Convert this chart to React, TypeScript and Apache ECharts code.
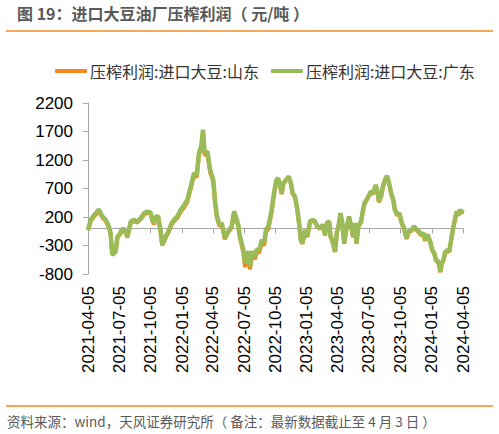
import React, { useEffect, useRef } from "react";
import * as echarts from "echarts";

const titleText = "图 19：进口大豆油厂压榨利润（ 元/吨 ）";
const footerText = "资料来源：wind，天风证券研究所（ 备注：最新数据截止至 4 月 3 日 ）";
const seriesNames = ["压榨利润:进口大豆:山东", "压榨利润:进口大豆:广东"];

const axisStart = "2021-04-05";
const axisEnd = "2024-04-05";
const tickDates = [
  "2021-04-05", "2021-07-05", "2021-10-05", "2022-01-05", "2022-04-05", "2022-07-05",
  "2022-10-05", "2023-01-05", "2023-04-05", "2023-07-05", "2023-10-05", "2024-01-05", "2024-04-05",
];
const yMin = -800;
const yMax = 2200;
const yStep = 500;

const sampleDates = [
  "2021-04-05", "2021-04-13", "2021-04-23", "2021-05-07", "2021-05-17", "2021-05-27", "2021-06-05", "2021-06-10",
  "2021-06-15", "2021-06-25", "2021-06-30", "2021-07-09", "2021-07-17", "2021-07-24", "2021-07-29", "2021-08-08",
  "2021-08-17", "2021-08-27", "2021-09-06", "2021-09-16", "2021-09-25", "2021-10-05", "2021-10-10", "2021-10-15",
  "2021-10-20", "2021-10-27", "2021-11-03", "2021-11-08", "2021-11-18", "2021-11-28", "2021-12-05", "2021-12-12",
  "2021-12-22", "2022-01-01", "2022-01-11", "2022-01-20", "2022-01-30", "2022-02-09", "2022-02-17", "2022-02-23",
  "2022-03-02", "2022-03-07", "2022-03-12", "2022-03-20", "2022-03-28", "2022-04-06", "2022-04-11", "2022-04-16",
  "2022-04-24", "2022-05-01", "2022-05-10", "2022-05-20", "2022-05-30", "2022-06-06", "2022-06-14", "2022-06-18",
  "2022-06-23", "2022-06-28", "2022-07-03", "2022-07-08", "2022-07-18", "2022-07-22", "2022-07-30", "2022-08-06",
  "2022-08-11", "2022-08-19", "2022-08-26", "2022-09-02", "2022-09-07", "2022-09-14", "2022-09-19", "2022-09-24",
  "2022-09-29", "2022-10-04", "2022-10-08", "2022-10-13", "2022-10-18", "2022-10-23", "2022-10-28", "2022-11-05",
  "2022-11-13", "2022-11-19", "2022-11-24", "2022-12-01", "2022-12-08", "2022-12-14", "2022-12-18", "2022-12-23",
  "2022-12-30", "2023-01-06", "2023-01-14", "2023-01-22", "2023-01-28", "2023-02-04", "2023-02-12", "2023-02-20",
  "2023-02-27", "2023-03-04", "2023-03-11", "2023-03-15", "2023-03-21", "2023-03-28", "2023-04-02", "2023-04-07",
  "2023-04-13", "2023-04-18", "2023-04-24", "2023-05-01", "2023-05-08", "2023-05-14", "2023-05-20", "2023-05-25",
  "2023-05-30", "2023-06-04", "2023-06-12", "2023-06-16", "2023-06-22", "2023-06-28", "2023-07-03", "2023-07-11",
  "2023-07-18", "2023-07-25", "2023-07-31", "2023-08-03", "2023-08-09", "2023-08-16", "2023-08-21", "2023-08-27",
  "2023-09-02", "2023-09-08", "2023-09-14", "2023-09-19", "2023-09-26", "2023-10-02", "2023-10-09", "2023-10-14",
  "2023-10-18", "2023-10-23", "2023-10-30", "2023-11-07", "2023-11-14", "2023-11-22", "2023-11-28", "2023-12-04",
  "2023-12-11", "2023-12-16", "2023-12-24", "2023-12-31", "2024-01-06", "2024-01-12", "2024-01-17", "2024-01-24",
  "2024-01-30", "2024-02-03", "2024-02-08", "2024-02-12", "2024-02-19", "2024-02-25", "2024-03-03", "2024-03-08",
  "2024-03-13", "2024-03-18", "2024-03-22", "2024-03-27", "2024-04-01", "2024-04-03",
];

const shandongValues = [
  -30, 130, 210, 300, 190, 130, 10, -100,
  -470, -410, -160, -95, -15, -75, -160, 95,
  125, 100, 160, 240, 275, 260, 130, 70,
  190, 190, -50, -300, -165, -50, 65, 120,
  180, 290, 370, 460, 690, 930, 900, 1280,
  1400, 1700, 1280, 1310, 980, 820, 470, 210,
  40, 70, -190, -70, 15, 275, 125, 40,
  -170, -290, -420, -680, -450, -720, -450, -540,
  -430, -420, -250, -300, -70, -10, 130, 290,
  520, 700, 830, 860, 750, 600, 780, 840,
  900, 780, 605, 545, 315, 20, -215, -270,
  -40, -155, 110, 135, 110, 20, -5, 50,
  -125, 80, 110, -155, -240, -415, -95, 20,
  255, 80, -270, 20, 195, 20, -155, 80,
  -270, 20, 110, 255, 430, 490, 545, 635,
  605, 750, 605, 460, 545, 750, 840, 905,
  780, 605, 490, 315, 225, 255, 80, 20,
  -65, -185, -65, -40, 20, -40, -65, -125,
  -95, -215, -125, -240, -390, -445, -565, -595,
  -770, -625, -565, -445, -390, -415, -155, 20,
  165, 285, 225, 315, 255, 315,
];

const guangdongValues = [
  -30, 150, 235, 330, 210, 150, 30, -80,
  -460, -400, -145, -80, 0, -60, -145, 120,
  150, 120, 180, 265, 295, 280, 150, 90,
  210, 210, -30, -290, -145, -30, 90, 150,
  210, 325, 410, 500, 735, 970, 940, 1320,
  1440, 1730, 1320, 1350, 1025, 855, 505, 240,
  65, 95, -170, -50, 35, 300, 150, 65,
  -140, -255, -375, -610, -400, -665, -400, -490,
  -375, -375, -200, -255, -25, 35, 180, 330,
  560, 735, 855, 880, 765, 620, 795, 855,
  910, 795, 620, 560, 330, 35, -200, -255,
  -25, -140, 125, 150, 125, 35, 10, 65,
  -110, 95, 125, -140, -225, -400, -80, 35,
  270, 95, -255, 35, 210, 35, -140, 95,
  -255, 35, 125, 270, 445, 505, 560, 650,
  620, 765, 620, 475, 560, 765, 855, 920,
  795, 620, 505, 330, 240, 270, 95, 35,
  -50, -170, -50, -25, 35, -25, -50, -110,
  -80, -200, -110, -225, -375, -430, -550, -580,
  -755, -610, -550, -430, -375, -400, -140, 35,
  180, 300, 240, 330, 270, 330,
];

const colorOrange = "#F5891F";
const colorGreen = "#9BBB59";
const cjkFont = "'Noto Sans CJK SC', 'Noto Sans', sans-serif";
const numFont = "'Liberation Sans', 'Noto Sans CJK SC', sans-serif";

function buildDays(start: string, end: string): string[] {
  const out: string[] = [];
  const d = new Date(start + "T00:00:00Z");
  const e = new Date(end + "T00:00:00Z");
  while (d.getTime() <= e.getTime()) {
    out.push(d.toISOString().slice(0, 10));
    d.setUTCDate(d.getUTCDate() + 1);
  }
  return out;
}

export default function App() {
  const ref = useRef<HTMLDivElement>(null);

  useEffect(() => {
    if (!ref.current) return;
    const chart = echarts.init(ref.current, undefined, { renderer: "svg" });
    const days = buildDays(axisStart, axisEnd);
    const dayIndex = new Map<string, number>();
    days.forEach((d, i) => dayIndex.set(d, i));
    const tickSet = new Set(tickDates);
    const isTick = (_i: number, v: string) => tickSet.has(v);
    const toPairs = (vals: number[]) =>
      sampleDates.map((d, i) => [dayIndex.get(d) as number, vals[i]]);

    chart.setOption({
      animation: false,
      backgroundColor: "#ffffff",
      grid: { left: 88, right: 36, top: 103, bottom: 160, containLabel: false },
      legend: {
        left: 50,
        top: 58,
        itemWidth: 32,
        itemHeight: 4,
        itemGap: 12,
        icon: "roundRect",
        textStyle: { fontSize: 16, color: "#333333", fontFamily: cjkFont, padding: [0, 0, 0, -2] },
        data: seriesNames,
      },
      xAxis: [
        {
          type: "category",
          data: days,
          boundaryGap: false,
          position: "bottom",
          axisLine: { show: true, onZero: true, lineStyle: { color: "#A6A6A6", width: 1 } },
          axisTick: { show: true, interval: isTick, length: 5, lineStyle: { color: "#A6A6A6" } },
          axisLabel: { show: false },
          splitLine: { show: false },
        },
        {
          type: "category",
          data: days,
          boundaryGap: false,
          position: "bottom",
          axisLine: { show: false, onZero: false },
          axisTick: { show: false },
          axisLabel: {
            show: true,
            interval: isTick,
            rotate: 90,
            margin: 12,
            fontSize: 17,
            color: "#000000",
            fontFamily: numFont,
          },
          splitLine: { show: false },
        },
      ],
      yAxis: {
        type: "value",
        min: yMin,
        max: yMax,
        interval: yStep,
        axisLine: { show: true, lineStyle: { color: "#A6A6A6", width: 1 } },
        axisTick: { show: true, length: 5, lineStyle: { color: "#A6A6A6" } },
        axisLabel: {
          fontSize: 17,
          color: "#000000",
          margin: 15,
          fontFamily: numFont,
          formatter: (v: number) => String(v),
        },
        splitLine: { show: false },
      },
      series: [
        {
          name: seriesNames[0],
          type: "line",
          xAxisIndex: 0,
          data: toPairs(shandongValues),
          symbol: "none",
          lineStyle: { color: colorOrange, width: 4 },
          itemStyle: { color: colorOrange },
          z: 2,
        },
        {
          name: seriesNames[1],
          type: "line",
          xAxisIndex: 0,
          data: toPairs(guangdongValues),
          symbol: "none",
          lineStyle: { color: colorGreen, width: 4.5 },
          itemStyle: { color: colorGreen },
          z: 3,
        },
      ],
      graphic: [
        {
          type: "text",
          left: 17,
          top: 5,
          style: {
            text: titleText,
            fontSize: 16,
            fontWeight: "bold",
            fill: "#595959",
            fontFamily: cjkFont,
          },
        },
        {
          type: "line",
          shape: { x1: 6, y1: 31, x2: 493, y2: 31 },
          style: { stroke: colorOrange, lineWidth: 1.5 },
        },
        {
          type: "line",
          shape: { x1: 6, y1: 406, x2: 493, y2: 406 },
          style: { stroke: colorOrange, lineWidth: 1.5 },
        },
        {
          type: "text",
          left: 7,
          top: 414,
          style: {
            text: footerText,
            fontSize: 13.5,
            fill: "#595959",
            fontFamily: cjkFont,
          },
        },
      ],
    });

    return () => chart.dispose();
  }, []);

  return (
    <div
      ref={ref}
      style={{ position: "fixed", left: 0, top: 0, width: 499, height: 434, background: "#fff" }}
    />
  );
}
